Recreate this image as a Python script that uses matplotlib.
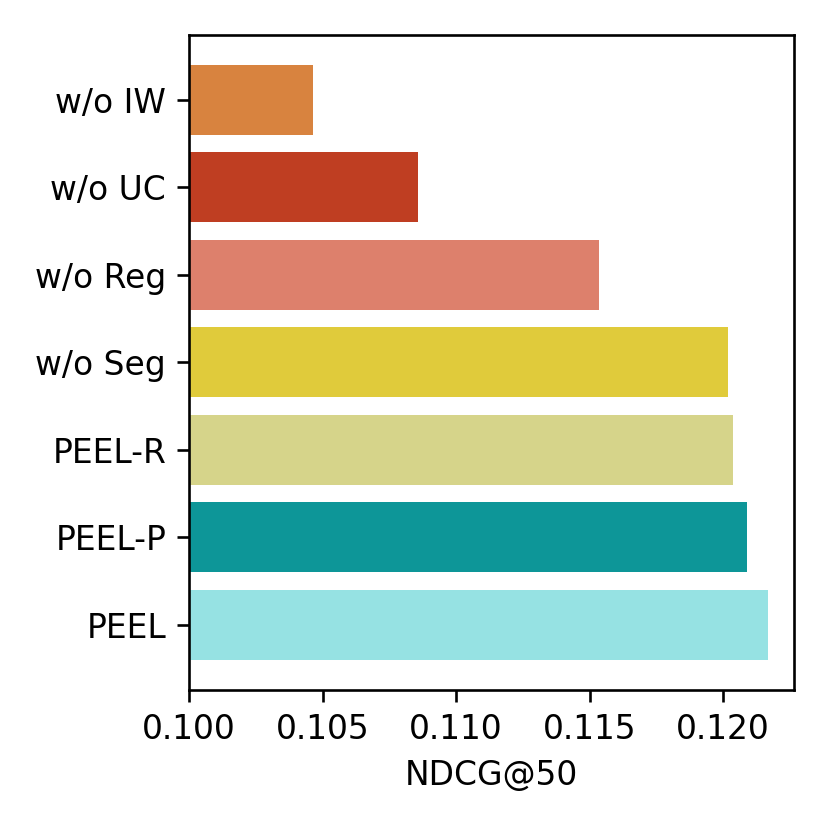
import matplotlib
matplotlib.use("Agg")
import matplotlib.pyplot as plt

# ablation results (bottom to top)
methods = ["PEEL", "PEEL-P", "PEEL-R", "w/o Seg", "w/o Reg", "w/o UC", "w/o IW"]
ndcg50 = [0.12169, 0.12089, 0.12039, 0.12018, 0.11536, 0.10858, 0.10465]
colors = ["#96E2E3", "#0D9698", "#D6D48A", "#E0CB3B", "#DD806C", "#BF3E22", "#D8833F"]

fig = plt.figure(figsize=(3.5, 3.5), dpi=237.15)
ax = fig.add_axes([0.228, 0.169, 0.728, 0.789])
ax.barh(methods, ndcg50, color=colors, height=0.8)
ax.set_xlim(0.1, max(ndcg50) + 0.00095)
ax.set_xticks([0.100, 0.105, 0.110, 0.115, 0.120])
ax.set_xlabel("NDCG@50")

fig.savefig("out.png", dpi=237.15)
